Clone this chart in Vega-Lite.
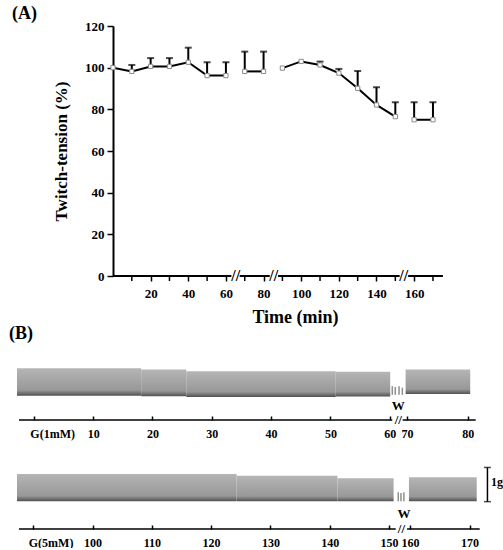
{
  "$schema": "https://vega.github.io/schema/vega-lite/v6.json",
  "padding": {"left": 9, "top": 5, "right": 0, "bottom": 0},
  "spacing": 40,
  "bounds": "flush",
  "datasets": {
    "a": [
      {"t": 0, "v": 100, "u": null, "s": 1},
      {"t": 10, "v": 98.2, "u": 101.3, "s": 1},
      {"t": 20, "v": 100.6, "u": 104.6, "s": 1},
      {"t": 30, "v": 100.6, "u": 104.6, "s": 1},
      {"t": 40, "v": 102.6, "u": 109.6, "s": 1},
      {"t": 50, "v": 96.2, "u": 102.6, "s": 1},
      {"t": 60, "v": 96.2, "u": 102.6, "s": 1},
      {"t": 70, "v": 98.2, "u": 107.7, "s": 2},
      {"t": 80, "v": 98.2, "u": 107.7, "s": 2},
      {"t": 90, "v": 99.8, "u": null, "s": 3},
      {"t": 100, "v": 103, "u": null, "s": 3},
      {"t": 110, "v": 101.3, "u": 102.9, "s": 3},
      {"t": 120, "v": 97.4, "u": 99.4, "s": 3},
      {"t": 130, "v": 90.1, "u": 98.4, "s": 3},
      {"t": 140, "v": 82.1, "u": 90.6, "s": 3},
      {"t": 150, "v": 76.5, "u": 83.4, "s": 3},
      {"t": 160, "v": 75, "u": 83.4, "s": 4},
      {"t": 170, "v": 75, "u": 83.4, "s": 4}
    ],
    "minorA": [{"t": 10}, {"t": 30}, {"t": 50}, {"t": 70}, {"t": 90}, {"t": 110}, {"t": 130}, {"t": 150}, {"t": 170}],
    "axisA": [
      {"from": 0, "to": 62.9},
      {"from": 67.3, "to": 83.3},
      {"from": 87.7, "to": 152.3},
      {"from": 156.8, "to": 175.3}
    ],
    "breakA": [{"x": 65.2}, {"x": 85.4}, {"x": 154.5}],
    "bands1": [
      {"from": -2.84, "to": 18.1, "lo": 0.675, "hi": 1.436},
      {"from": 18.1, "to": 25.7, "lo": 0.66, "hi": 1.4},
      {"from": 25.7, "to": 50.9, "lo": 0.64, "hi": 1.353},
      {"from": 50.9, "to": 60.3, "lo": 0.65, "hi": 1.342},
      {"from": 69.2, "to": 80.4, "lo": 0.72, "hi": 1.4}
    ],
    "spikes1": [
      {"t": 61.5, "lo": 0.7, "hi": 0.94},
      {"t": 63.2, "lo": 0.7, "hi": 0.92},
      {"t": 65.4, "lo": 0.7, "hi": 0.94},
      {"t": 67.3, "lo": 0.7, "hi": 0.9}
    ],
    "axis1": [{"from": -2.5, "to": 61.5}, {"from": 67.5, "to": 81.3}],
    "bands2": [
      {"from": 87.26, "to": 124.3, "lo": 0.77, "hi": 1.528},
      {"from": 124.3, "to": 141.3, "lo": 0.77, "hi": 1.48},
      {"from": 141.3, "to": 152.2, "lo": 0.77, "hi": 1.41},
      {"from": 159.5, "to": 171.2, "lo": 0.77, "hi": 1.44}
    ],
    "spikes2": [
      {"t": 154.4, "lo": 0.77, "hi": 1.02},
      {"t": 155.7, "lo": 0.77, "hi": 1.0},
      {"t": 157.1, "lo": 0.77, "hi": 1.02}
    ],
    "axis2": [{"from": 87.6, "to": 153.2}, {"from": 158.6, "to": 171.7}]
  },
  "vconcat": [
    {
      "width": 425,
      "height": 250,
      "title": {"text": "(A)", "anchor": "start", "frame": "group", "dx": -5, "offset": -3, "fontSize": 18},
      "layer": [
        {
          "data": {"name": "a"},
          "mark": {"type": "line", "color": "black", "strokeWidth": 2},
          "encoding": {
            "x": {
              "field": "t",
              "type": "quantitative",
              "scale": {"domain": [-51, 174.8], "nice": false, "zero": false},
              "axis": {
                "domain": false,
                "values": [20, 40, 60, 80, 100, 120, 140, 160],
                "labelOverlap": false,
                "labelFlush": false,
                "labelBound": false,
                "tickSize": 5,
                "tickWidth": 1.5,
                "labelPadding": 6,
                "labelFontSize": 13,
                "title": "Time (min)",
                "titleFontSize": 18,
                "titleX": 278,
                "titlePadding": 8,
                "grid": false
              }
            },
            "y": {
              "field": "v",
              "type": "quantitative",
              "scale": {"domain": [0, 120], "nice": false},
              "axis": {
                "offset": -96,
                "values": [0, 10, 20, 30, 40, 50, 60, 70, 80, 90, 100, 110, 120],
                "labelExpr": "datum.value % 20 == 0 ? datum.label : ''",
                "labelOverlap": false,
                "tickSize": {"condition": {"test": "datum.value % 20 == 0", "value": 6}, "value": 3},
                "tickWidth": 1.5,
                "domainWidth": 2,
                "labelPadding": 3,
                "labelFontSize": 13,
                "title": "Twitch-tension (%)",
                "titleFontSize": 17,
                "titlePadding": 14,
                "grid": false
              }
            },
            "detail": {"field": "s"}
          }
        },
        {
          "data": {"name": "minorA"},
          "mark": {"type": "rule", "color": "black", "strokeWidth": 1.5},
          "encoding": {
            "x": {"field": "t", "type": "quantitative"},
            "y": {"datum": 0},
            "y2": {"datum": -2.4}
          }
        },
        {
          "data": {"name": "axisA"},
          "mark": {"type": "rule", "color": "black", "strokeWidth": 2},
          "encoding": {
            "x": {"field": "from", "type": "quantitative"},
            "x2": {"field": "to"},
            "y": {"datum": 0}
          }
        },
        {
          "data": {"name": "breakA"},
          "mark": {"type": "text", "text": "//", "fontSize": 16, "fontWeight": "bold", "font": "Liberation Serif"},
          "encoding": {
            "x": {"field": "x", "type": "quantitative"},
            "y": {"datum": 0}
          }
        },
        {
          "data": {"name": "a"},
          "transform": [{"filter": "datum.u != null"}],
          "mark": {"type": "rule", "color": "black", "strokeWidth": 2},
          "encoding": {
            "x": {"field": "t", "type": "quantitative"},
            "y": {"field": "v", "type": "quantitative"},
            "y2": {"field": "u"}
          }
        },
        {
          "data": {"name": "a"},
          "transform": [{"filter": "datum.u != null"}],
          "mark": {"type": "tick", "orient": "horizontal", "color": "black", "size": 7, "thickness": 2},
          "encoding": {
            "x": {"field": "t", "type": "quantitative"},
            "y": {"field": "u", "type": "quantitative"}
          }
        },
        {
          "data": {"name": "a"},
          "mark": {"type": "point", "shape": "square", "filled": true, "fill": "white", "stroke": "#8a8a8a", "strokeWidth": 1, "size": 18, "opacity": 1},
          "encoding": {
            "x": {"field": "t", "type": "quantitative"},
            "y": {"field": "v", "type": "quantitative"}
          }
        }
      ]
    },
    {
      "width": 461,
      "height": 104,
      "title": {"text": "(B)", "anchor": "start", "frame": "group", "dx": -8, "dy": 31, "fontSize": 18},
      "layer": [
        {
          "data": {"name": "bands1"},
          "mark": {
            "type": "rect",
            "color": {"gradient": "linear", "x1": 0, "y1": 0, "x2": 0, "y2": 1, "stops": [
              {"offset": 0, "color": "#b5b5b5"},
              {"offset": 0.8, "color": "#989898"},
              {"offset": 1, "color": "#505050"}
            ]}
          },
          "encoding": {
            "x": {
              "field": "from",
              "type": "quantitative",
              "scale": {"domain": [-2.5, 60, 70, 81.3], "range": [2, 372.7, 390, 458.7], "nice": false, "zero": false},
              "axis": {
                "domain": false,
                "values": [0, 10, 20, 30, 40, 50, 60, 70, 80],
                "labelExpr": "datum.value == 0 ? 'G(1mM)' : datum.label",
                "labelAlign": {"condition": {"test": "datum.value == 0", "value": "left"}, "value": "center"},
                "labelOffset": {"condition": {"test": "datum.value == 0", "value": -4}, "value": 0},
                "labelOverlap": false,
                "tickSize": -4,
                "tickWidth": 1.5,
                "labelPadding": 12,
                "labelFontSize": 12,
                "title": null,
                "grid": false
              }
            },
            "x2": {"field": "to"},
            "y": {"field": "lo", "type": "quantitative", "scale": {"domain": [0, 2.889], "nice": false}, "axis": null},
            "y2": {"field": "hi"}
          }
        },
        {
          "data": {"name": "spikes1"},
          "mark": {"type": "rule", "color": "#8f8f8f", "strokeWidth": 1.5},
          "encoding": {
            "x": {"field": "t", "type": "quantitative"},
            "y": {"field": "lo", "type": "quantitative"},
            "y2": {"field": "hi"}
          }
        },
        {
          "data": {"name": "axis1"},
          "mark": {"type": "rule", "color": "black", "strokeWidth": 1.5},
          "encoding": {
            "x": {"field": "from", "type": "quantitative"},
            "x2": {"field": "to"},
            "y": {"datum": 0}
          }
        },
        {
          "data": {"values": [{"x": 65, "label": "//", "y": 0}, {"x": 65, "label": "W", "y": 0.4}]},
          "mark": {"type": "text", "fontSize": 13, "fontWeight": "bold", "font": "Liberation Serif"},
          "encoding": {
            "x": {"field": "x", "type": "quantitative"},
            "y": {"field": "y", "type": "quantitative"},
            "text": {"field": "label"}
          }
        }
      ]
    },
    {
      "width": 461,
      "height": 69,
      "layer": [
        {
          "data": {"name": "bands2"},
          "mark": {
            "type": "rect",
            "color": {"gradient": "linear", "x1": 0, "y1": 0, "x2": 0, "y2": 1, "stops": [
              {"offset": 0, "color": "#b5b5b5"},
              {"offset": 0.8, "color": "#989898"},
              {"offset": 1, "color": "#505050"}
            ]}
          },
          "encoding": {
            "x": {
              "field": "from",
              "type": "quantitative",
              "scale": {"domain": [87.6, 150, 160, 171.7], "range": [2, 372, 393, 462.7], "nice": false, "zero": false},
              "axis": {
                "domain": false,
                "values": [90, 100, 110, 120, 130, 140, 150, 160, 170],
                "labelExpr": "datum.value == 90 ? 'G(5mM)' : datum.label",
                "labelAlign": {"condition": {"test": "datum.value == 90", "value": "left"}, "value": "center"},
                "labelOffset": {"condition": {"test": "datum.value == 90", "value": -5}, "value": 0},
                "labelOverlap": false,
                "tickSize": -4,
                "tickWidth": 1.5,
                "labelPadding": 12,
                "labelFontSize": 12,
                "title": null,
                "grid": false
              }
            },
            "x2": {"field": "to"},
            "y": {"field": "lo", "type": "quantitative", "scale": {"domain": [0, 1.917], "nice": false}, "axis": null},
            "y2": {"field": "hi"}
          }
        },
        {
          "data": {"name": "spikes2"},
          "mark": {"type": "rule", "color": "#8f8f8f", "strokeWidth": 1.5},
          "encoding": {
            "x": {"field": "t", "type": "quantitative"},
            "y": {"field": "lo", "type": "quantitative"},
            "y2": {"field": "hi"}
          }
        },
        {
          "data": {"name": "axis2"},
          "mark": {"type": "rule", "color": "black", "strokeWidth": 1.5},
          "encoding": {
            "x": {"field": "from", "type": "quantitative"},
            "x2": {"field": "to"},
            "y": {"datum": 0}
          }
        },
        {
          "data": {"values": [{"x": 173, "lo": 0.76, "hi": 1.71}]},
          "mark": {"type": "rule", "color": "black", "strokeWidth": 1.5},
          "encoding": {
            "x": {"field": "x", "type": "quantitative"},
            "y": {"field": "lo", "type": "quantitative"},
            "y2": {"field": "hi"}
          }
        },
        {
          "data": {"values": [{"x": 173, "y": 0.76}, {"x": 173, "y": 1.71}]},
          "mark": {"type": "tick", "orient": "horizontal", "color": "black", "size": 7, "thickness": 1.5},
          "encoding": {
            "x": {"field": "x", "type": "quantitative"},
            "y": {"field": "y", "type": "quantitative"}
          }
        },
        {
          "data": {"values": [
            {"x": 155.9, "label": "//", "y": 0},
            {"x": 157.1, "label": "W", "y": 0.42}
          ]},
          "mark": {"type": "text", "fontSize": 13, "fontWeight": "bold", "font": "Liberation Serif"},
          "encoding": {
            "x": {"field": "x", "type": "quantitative"},
            "y": {"field": "y", "type": "quantitative"},
            "text": {"field": "label"}
          }
        },
        {
          "data": {"values": [{"x": 173.6, "label": "1g", "y": 1.3}]},
          "mark": {"type": "text", "align": "left", "fontSize": 12, "fontWeight": "bold", "font": "Liberation Serif"},
          "encoding": {
            "x": {"field": "x", "type": "quantitative"},
            "y": {"field": "y", "type": "quantitative"},
            "text": {"field": "label"}
          }
        }
      ]
    }
  ],
  "config": {
    "view": {"stroke": null},
    "font": "Liberation Serif",
    "axis": {
      "labelFont": "Liberation Serif",
      "labelFontWeight": "bold",
      "labelColor": "black",
      "labelOverlap": false,
      "labelBound": false,
      "titleFont": "Liberation Serif",
      "titleFontWeight": "bold",
      "titleColor": "black",
      "tickColor": "black",
      "domainColor": "black"
    },
    "title": {"font": "Liberation Serif", "fontWeight": "bold", "color": "black"},
    "text": {"color": "black"}
  }
}
